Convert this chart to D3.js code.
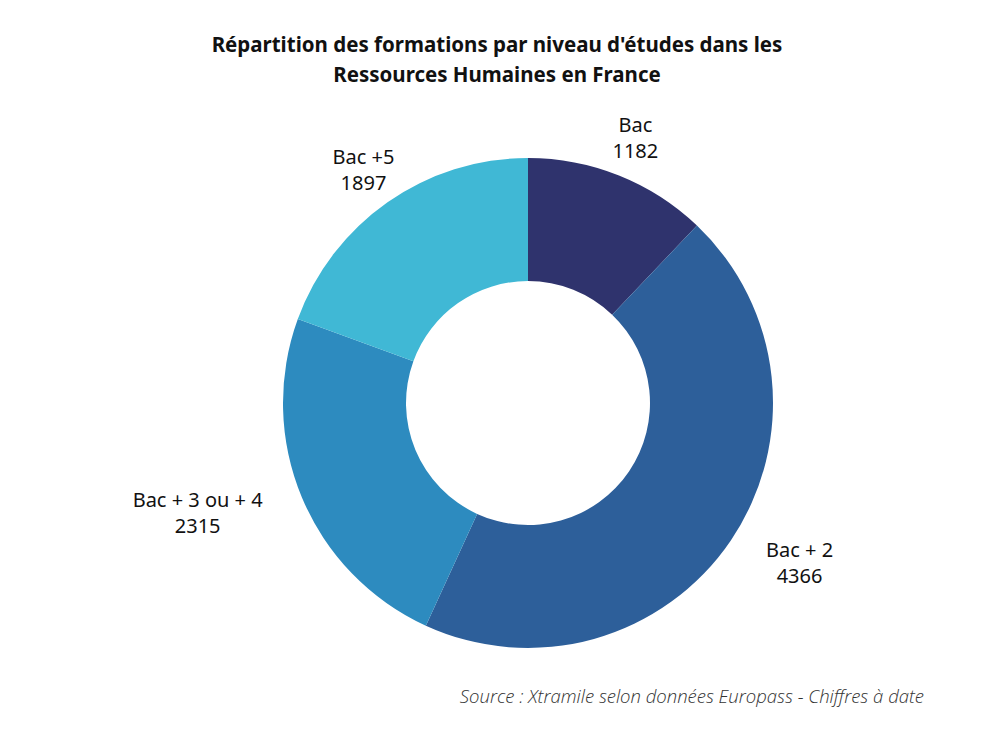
<!DOCTYPE html>
<html>
<head>
<meta charset="utf-8">
<script src="https://cdn.jsdelivr.net/npm/d3@7"></script>
<style>
  body { margin: 0; background: #fff; }
  svg { font-family: "Noto Sans", Lato, sans-serif; }
</style>
</head>
<body>
<svg id="chart"></svg>
<script>
const width = 1000, height = 750
const categories = ['Bac', 'Bac + 2', 'Bac + 3 ou + 4', 'Bac +5']
const values = [1182, 4366, 2315, 1897]
const colors = ['#2f336d', '#2d5f9a', '#2d8bbf', '#40b8d5']
// horizontal reach of each label (the vertical one is shared)
const labelRx = [289, 328, 358, 287]
const labelRy = 285

const svg = d3.select('#chart').attr('width', width).attr('height', height)

const cx = 528, cy = 403
const outerR = 245, innerR = 122

svg.append('text')
  .attr('x', 497).attr('y', 52)
  .attr('text-anchor', 'middle')
  .attr('font-size', 20.5).attr('font-weight', 700).attr('fill', '#111')
  .text("Répartition des formations par niveau d'études dans les")
svg.append('text')
  .attr('x', 497).attr('y', 82)
  .attr('text-anchor', 'middle')
  .attr('font-size', 20.5).attr('font-weight', 700).attr('fill', '#111')
  .text('Ressources Humaines en France')

const pie = d3.pie().sort(null).value(d => d)
const arcs = pie(values)
const arc = d3.arc().innerRadius(innerR).outerRadius(outerR)

const g = svg.append('g').attr('transform', `translate(${cx},${cy})`)

g.selectAll('path.slice')
  .data(arcs)
  .join('path')
  .attr('class', 'slice')
  .attr('d', arc)
  .attr('fill', (d, i) => colors[i])

const labels = g.selectAll('g.label')
  .data(arcs)
  .join('g')
  .attr('class', 'label')
  .attr('transform', (d, i) => {
    const a = (d.startAngle + d.endAngle) / 2
    return `translate(${Math.sin(a) * labelRx[i]},${-Math.cos(a) * labelRy})`
  })

labels.append('text')
  .attr('text-anchor', 'middle')
  .attr('y', -6)
  .attr('font-size', 20).attr('fill', '#111')
  .text((d, i) => categories[i])
labels.append('text')
  .attr('text-anchor', 'middle')
  .attr('y', 20)
  .attr('font-size', 20).attr('fill', '#111')
  .text(d => d.data)

svg.append('text')
  .attr('x', 924).attr('y', 703)
  .attr('text-anchor', 'end')
  .attr('font-family', '"Open Sans", "Noto Sans", sans-serif')
  .attr('font-size', 18.5).attr('font-style', 'italic').attr('font-weight', 300)
  .attr('fill', '#333')
  .text('Source : Xtramile selon données Europass - Chiffres à date')
</script>
</body>
</html>
